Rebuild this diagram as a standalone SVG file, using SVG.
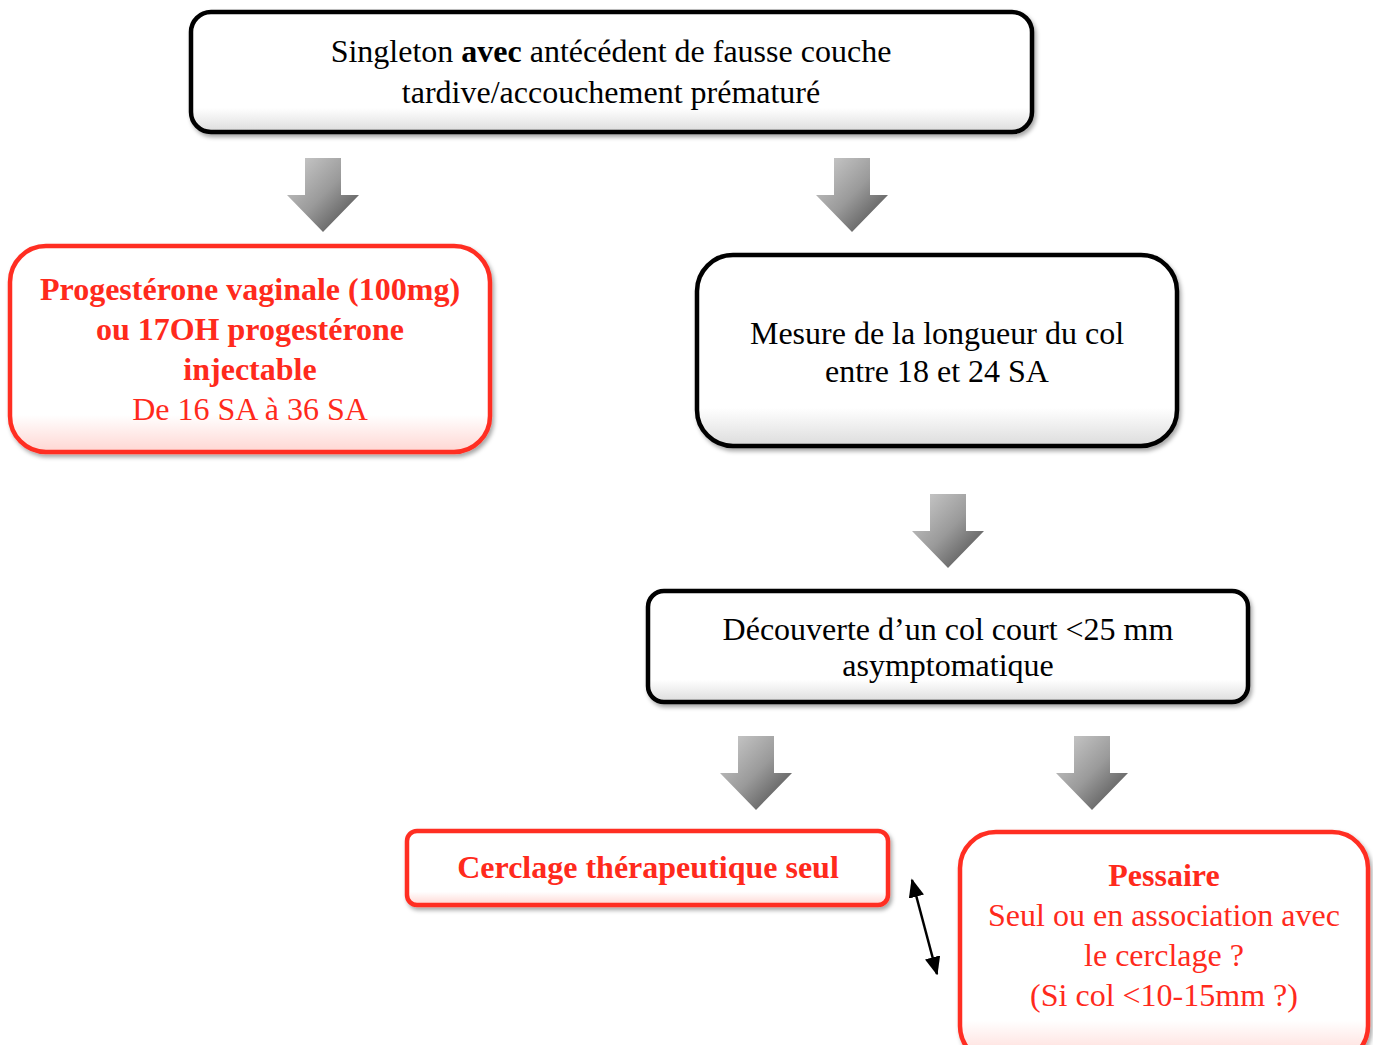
<svg xmlns="http://www.w3.org/2000/svg" width="1373" height="1045" viewBox="0 0 1373 1045">
<style>
.bk{fill:url(#gk);stroke:#000;stroke-width:4.5}
.rd{fill:url(#gr);stroke:#ff2e22;stroke-width:4.5}
.t{font-family:"Liberation Serif","Times New Roman",serif;font-size:32px;text-anchor:middle;fill:#000}
.r{fill:#ff2a1c}
.b{font-weight:bold}
.arr{fill:url(#ga)}
</style>
<defs>
<linearGradient id="gk" x1="0" y1="0" x2="0" y2="1">
<stop offset="0" stop-color="#fff"/><stop offset="0.8" stop-color="#fff"/><stop offset="1" stop-color="#dcdcdc"/>
</linearGradient>
<linearGradient id="gr" x1="0" y1="0" x2="0" y2="1">
<stop offset="0" stop-color="#fff"/><stop offset="0.82" stop-color="#fff"/><stop offset="1" stop-color="#ffd6d2"/>
</linearGradient>
<linearGradient id="ga" x1="0" y1="0" x2="1" y2="1">
<stop offset="0" stop-color="#d0d0d0"/><stop offset="0.5" stop-color="#9a9a9a"/><stop offset="0.75" stop-color="#6e6e6e"/><stop offset="1" stop-color="#a8a8a8"/>
</linearGradient>
<filter id="sh" x="-5%" y="-5%" width="110%" height="120%">
<feDropShadow dx="2" dy="3" stdDeviation="2" flood-color="#000" flood-opacity="0.35"/>
</filter>
<marker id="ah" viewBox="0 0 12 10" refX="11" refY="5" markerWidth="7.5" markerHeight="6.25" orient="auto-start-reverse">
<path d="M0,0L12,5L0,10z" fill="#000"/>
</marker>
<path id="ar" d="M-18,0H18V37H36L0,74L-36,37H-18Z"/>
</defs>

<g id="connectors">
<use href="#ar" class="arr" x="323" y="158"/>
<use href="#ar" class="arr" x="852" y="158"/>
<use href="#ar" class="arr" x="948" y="494"/>
<use href="#ar" class="arr" x="756" y="736"/>
<use href="#ar" class="arr" x="1092" y="736"/>
<line x1="912" y1="880" x2="937" y2="974" stroke="#000" stroke-width="2.5" marker-start="url(#ah)" marker-end="url(#ah)"/>
</g>

<g id="n1">
<rect class="bk" x="191" y="12" width="841" height="120" rx="20" filter="url(#sh)"/>
<text class="t" x="611" y="62">Singleton <tspan class="b">avec</tspan> antécédent de fausse couche</text>
<text class="t" x="611" y="103">tardive/accouchement prématuré</text>
</g>

<g id="n2">
<rect class="rd" x="10" y="246" width="480" height="206" rx="36" filter="url(#sh)"/>
<text class="t r b" x="250" y="300">Progestérone vaginale (100mg)</text>
<text class="t r b" x="250" y="340">ou 17OH progestérone</text>
<text class="t r b" x="250" y="380">injectable</text>
<text class="t r" x="250" y="420">De 16 SA à 36 SA</text>
</g>

<g id="n3">
<rect class="bk" x="697" y="255" width="480" height="191" rx="36" filter="url(#sh)"/>
<text class="t" x="937" y="344">Mesure de la longueur du col</text>
<text class="t" x="937" y="382">entre 18 et 24 SA</text>
</g>

<g id="n4">
<rect class="bk" x="648" y="591" width="600" height="111" rx="16" filter="url(#sh)"/>
<text class="t" x="948" y="640">Découverte d’un col court &lt;25 mm</text>
<text class="t" x="948" y="676">asymptomatique</text>
</g>

<g id="n5">
<rect class="rd" x="407" y="831" width="481" height="74" rx="10" filter="url(#sh)"/>
<text class="t r b" x="648" y="878">Cerclage thérapeutique seul</text>
</g>

<g id="n6">
<rect class="rd" x="960" y="832" width="408" height="230" rx="36" filter="url(#sh)"/>
<text class="t r b" x="1164" y="886">Pessaire</text>
<text class="t r" x="1164" y="926">Seul ou en association avec</text>
<text class="t r" x="1164" y="966">le cerclage ?</text>
<text class="t r" x="1164" y="1006">(Si col &lt;10-15mm ?)</text>
</g>
</svg>
